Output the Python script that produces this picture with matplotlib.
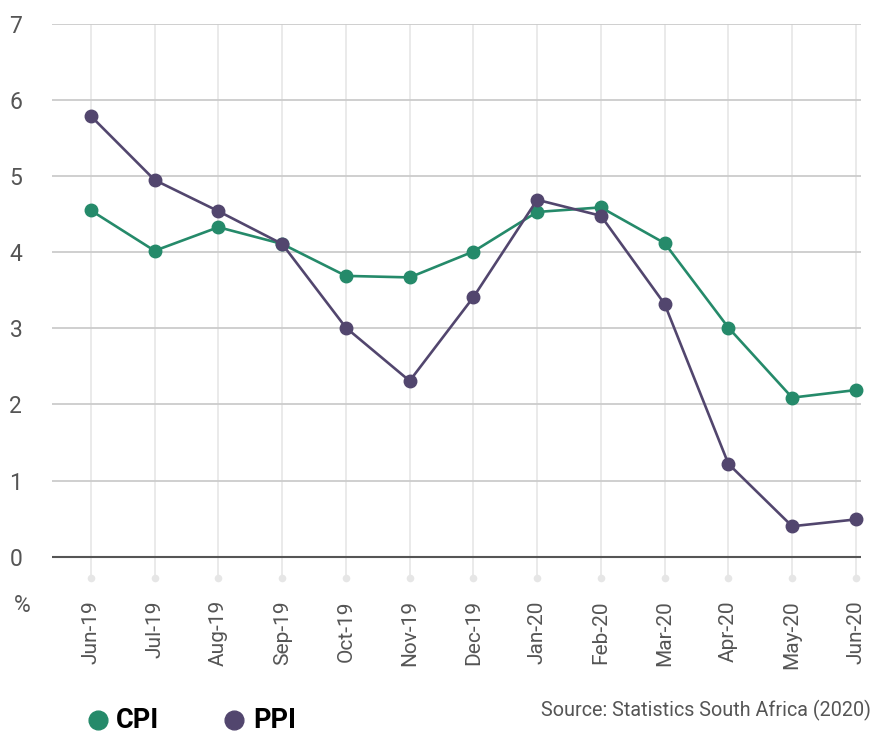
import matplotlib
matplotlib.use("Agg")
import matplotlib.pyplot as plt
from matplotlib.lines import Line2D

months = ["Jun-19", "Jul-19", "Aug-19", "Sep-19", "Oct-19", "Nov-19", "Dec-19",
          "Jan-20", "Feb-20", "Mar-20", "Apr-20", "May-20", "Jun-20"]
cpi = [4.55, 4.02, 4.33, 4.11, 3.69, 3.67, 4.01, 4.53, 4.59, 4.12, 3.01, 2.09, 2.19]
ppi = [5.79, 4.95, 4.54, 4.11, 3.01, 2.31, 3.41, 4.69, 4.48, 3.32, 1.22, 0.40, 0.49]
yticks = [0, 1, 2, 3, 4, 5, 6, 7]
series_names = ["CPI", "PPI"]

GREEN = "#258a6a"
PURPLE = "#52466e"
GREY_TXT = "#555555"

plt.rcParams["font.family"] = ["Roboto", "DejaVu Sans"]

W, H = 871, 734
fig = plt.figure(figsize=(W / 100, H / 100), dpi=100)
ax = fig.add_axes([52 / W, 1 - 578 / H, (861 - 52) / W, (578 - 24) / H])

x = list(range(len(months)))

# gridlines
for yv in yticks[1:]:
    ax.axhline(yv, color="#cccccc", lw=1.3, zorder=1)
for xv in x:
    ax.plot([xv, xv], [-0.28, 7], color="#e8e8e8", lw=1.3, zorder=0, solid_capstyle="butt")
ax.scatter(x, [-0.28] * len(x), s=30, color="#e6e6e6", zorder=0, clip_on=False, linewidths=0)
ax.axhline(0, color="#555555", lw=1.5, zorder=1)

ax.plot(x, cpi, color=GREEN, lw=1.9, marker="o", ms=9, zorder=3, clip_on=False)
ax.plot(x, ppi, color=PURPLE, lw=1.9, marker="o", ms=9, zorder=4, clip_on=False)

ax.set_xlim(-0.61, 12.08)
ax.set_ylim(-0.28, 7)
ax.set_yticks(yticks)
ax.set_yticklabels([str(v) for v in yticks], fontsize=16.5, color=GREY_TXT)
ax.set_xticks(x)
ax.set_xticklabels(months, rotation=90, fontsize=15, color=GREY_TXT, va="top", ha="center")
ax.tick_params(axis="y", length=0, pad=26)
ax.tick_params(axis="x", length=0, pad=16)
for yl in ax.get_yticklabels():
    yl.set_horizontalalignment("center")
for s in ax.spines.values():
    s.set_visible(False)

fig.text(22 / W, 1 - 605 / H, "%", fontsize=16.5, color=GREY_TXT, ha="center", va="center")

# legend (placed manually)
for cx, tx, col, name in [(98, 116, GREEN, series_names[0]), (234, 253, PURPLE, series_names[1])]:
    fig.add_artist(Line2D([cx / W], [1 - 720 / H], ls="none", marker="o", ms=13.5,
                          color=col, transform=fig.transFigure))
    fig.text(tx / W, 1 - 728 / H, name, fontsize=19.5, fontweight="bold", color="black",
             ha="left", va="baseline")

fig.text(871 / W, 1 - 710 / H, "Source: Statistics South Africa (2020)",
         fontsize=14.2, color=GREY_TXT, ha="right", va="center")

fig.savefig("out.png", dpi=100)
